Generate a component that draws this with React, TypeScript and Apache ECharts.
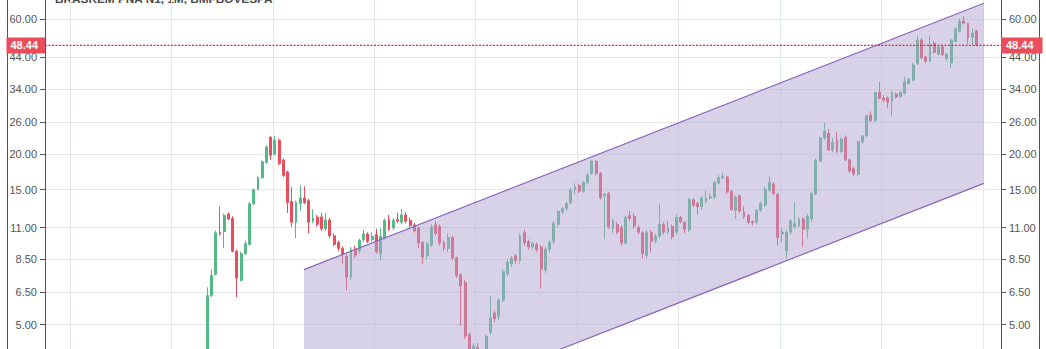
import React, { useEffect, useRef } from "react";
import * as echarts from "echarts";

const chartTitle = "BRASKEM PNA N1, 1M, BMFBOVESPA";

// Monthly candles, oldest first: [open, close, low, high]
const candles: number[][] = [
  [3.7, 6.33, 3.6, 6.77], [6.33, 7.45, 6.25, 7.84], [7.53, 10.55, 7.45, 10.75], [10.6, 10.45, 10.3, 13.06],
  [10.66, 12.14, 9.3, 12.35], [12.3, 11.8, 11.7, 12.45], [11.85, 9.08, 9.0, 12.07], [9.08, 7.3, 6.24, 9.2],
  [7.17, 8.9, 7.1, 9.05], [8.9, 9.65, 8.8, 9.9], [9.6, 13.35, 9.5, 13.6], [13.35, 15.0, 13.2, 15.1],
  [15.0, 16.5, 14.9, 16.7], [16.5, 18.8, 16.4, 19.0], [18.7, 21.2, 18.5, 21.5], [22.9, 19.8, 19.1, 23.2],
  [20.0, 22.4, 19.8, 23.2], [22.4, 18.5, 18.3, 22.7], [19.05, 16.8, 16.6, 19.3], [17.3, 13.5, 12.4, 17.5],
  [13.6, 11.5, 11.05, 15.3], [11.5, 13.5, 10.1, 13.7], [13.4, 14.0, 12.65, 15.5], [14.0, 13.5, 13.3, 15.4],
  [13.7, 11.5, 10.5, 13.9], [11.6, 11.9, 11.4, 12.75], [12.0, 11.3, 11.1, 12.2], [12.0, 10.9, 10.7, 12.4],
  [10.9, 11.7, 10.7, 12.4], [11.7, 10.3, 10.1, 11.9], [10.3, 9.6, 9.45, 10.5], [9.75, 9.3, 9.1, 9.9],
  [9.3, 8.85, 8.2, 9.45], [8.7, 7.35, 6.6, 8.85], [7.35, 9.2, 7.2, 9.4], [9.25, 8.8, 8.6, 9.5],
  [9.1, 9.9, 8.9, 10.05], [9.97, 10.45, 9.8, 10.8], [10.45, 9.85, 9.7, 10.6], [9.97, 10.25, 9.8, 10.6],
  [10.4, 9.05, 8.9, 10.9], [8.9, 10.25, 8.42, 10.95], [10.1, 11.66, 10.0, 11.85], [11.75, 10.85, 10.7, 12.2],
  [11.0, 11.66, 10.8, 11.9], [11.75, 11.6, 11.4, 12.4], [11.5, 12.2, 11.3, 12.8], [12.2, 11.6, 11.4, 12.5],
  [11.66, 11.2, 11.0, 11.9], [11.25, 10.7, 10.55, 11.4], [10.95, 9.7, 9.3, 11.1], [9.75, 8.65, 8.2, 9.85],
  [8.75, 9.65, 8.5, 9.8], [9.55, 11.05, 9.4, 11.3], [11.25, 10.5, 10.3, 11.6], [11.1, 9.7, 9.5, 11.3],
  [9.75, 9.3, 9.1, 9.9], [9.3, 10.15, 9.0, 10.5], [10.15, 8.6, 8.45, 10.3], [8.6, 7.45, 7.3, 8.7],
  [7.5, 6.85, 4.95, 7.6], [7.05, 4.55, 4.45, 7.2], [4.6, 3.9, 3.7, 4.7], [3.8, 4.2, 3.6, 4.3],
  [4.15, 3.6, 3.4, 4.3], [3.6, 3.5, 3.2, 3.95], [3.6, 4.55, 3.5, 4.6], [4.7, 5.27, 4.6, 6.3],
  [5.5, 5.25, 5.1, 5.6], [5.35, 6.1, 5.2, 6.2], [6.1, 7.7, 6.0, 7.85], [7.55, 8.3, 7.4, 8.5],
  [8.2, 8.6, 8.0, 8.75], [8.75, 8.4, 8.2, 8.9], [8.4, 10.3, 8.2, 10.5], [10.55, 9.7, 9.5, 10.8],
  [9.85, 9.4, 9.2, 10.0], [9.4, 9.65, 9.2, 9.8], [9.6, 9.2, 9.0, 9.75], [9.4, 7.85, 6.7, 9.55],
  [7.8, 9.25, 7.6, 9.4], [9.2, 9.75, 9.0, 9.9], [9.85, 11.4, 9.6, 11.6], [11.3, 12.55, 11.1, 12.7],
  [12.5, 12.85, 12.3, 13.0], [12.85, 13.35, 12.6, 13.6], [13.45, 14.95, 13.3, 15.2], [14.95, 15.35, 14.4, 15.8],
  [15.5, 14.8, 14.6, 15.7], [14.8, 15.9, 14.6, 16.1], [15.9, 16.9, 15.7, 17.2], [17.1, 18.9, 16.9, 19.0],
  [18.9, 17.1, 16.8, 19.0], [17.1, 14.0, 13.8, 17.3], [14.25, 14.4, 10.05, 14.6], [14.5, 11.05, 10.9, 14.7],
  [10.95, 11.66, 10.5, 11.8], [11.3, 10.6, 10.4, 11.5], [11.0, 9.7, 9.5, 11.2], [9.7, 11.95, 9.6, 12.1],
  [12.15, 11.85, 11.6, 12.6], [12.05, 11.15, 10.9, 12.3], [11.0, 10.6, 10.4, 11.2], [10.55, 8.9, 8.55, 10.7],
  [8.75, 10.6, 8.6, 10.8], [10.6, 9.85, 9.0, 10.8], [9.9, 10.25, 9.7, 10.5], [10.25, 11.3, 10.1, 13.3],
  [11.3, 10.6, 10.4, 11.5], [10.6, 11.0, 10.4, 11.6], [11.1, 10.2, 10.0, 11.3], [10.6, 11.95, 10.4, 12.3],
  [11.95, 11.55, 11.4, 12.1], [11.5, 10.85, 10.5, 11.6], [10.8, 13.8, 10.6, 14.0], [13.8, 13.2, 13.0, 14.0],
  [13.4, 13.05, 12.2, 13.6], [13.05, 14.0, 12.7, 14.2], [13.6, 14.0, 13.4, 14.9], [14.0, 14.15, 13.8, 14.5],
  [14.1, 15.9, 13.9, 16.1], [15.8, 16.5, 15.6, 16.9], [16.5, 16.7, 16.3, 17.2], [16.6, 14.7, 14.5, 16.8],
  [14.8, 12.75, 12.6, 15.0], [12.65, 14.1, 11.8, 14.3], [14.25, 12.6, 12.4, 14.4], [12.5, 12.05, 11.8, 13.1],
  [12.15, 11.5, 11.3, 12.3], [11.55, 11.45, 11.2, 11.7], [11.5, 12.65, 11.3, 12.8], [12.65, 13.4, 12.5, 13.6],
  [13.2, 15.0, 13.0, 15.3], [14.9, 15.9, 14.7, 16.7], [15.7, 14.55, 14.3, 15.9], [14.4, 10.15, 9.5, 14.6],
  [10.45, 10.6, 9.8, 11.0], [9.1, 10.6, 8.55, 10.8], [10.6, 11.6, 10.4, 11.8], [11.1, 11.35, 10.9, 13.5],
  [11.2, 11.8, 11.0, 12.0], [11.8, 10.85, 9.4, 12.0], [10.85, 12.1, 10.05, 12.3], [11.8, 14.5, 11.5, 14.7],
  [14.5, 19.0, 14.3, 19.3], [18.9, 22.8, 18.7, 23.1], [22.8, 24.1, 22.5, 25.8], [23.7, 20.7, 20.5, 24.5],
  [20.7, 22.0, 20.3, 22.8], [22.4, 20.4, 20.2, 24.0], [20.4, 22.6, 20.2, 22.9], [22.9, 19.1, 18.9, 23.3],
  [19.1, 17.4, 17.2, 19.3], [17.8, 17.0, 16.7, 18.0], [17.0, 22.1, 16.8, 22.3], [22.1, 23.2, 21.8, 23.4],
  [23.2, 27.3, 23.0, 27.6], [27.5, 26.3, 26.0, 28.3], [26.3, 33.0, 26.0, 33.3], [33.0, 31.5, 31.2, 36.0],
  [31.6, 31.0, 30.6, 32.3], [31.6, 30.5, 29.0, 32.0], [30.8, 33.0, 27.3, 33.3], [32.6, 31.8, 31.4, 33.0],
  [31.9, 33.0, 31.6, 33.5], [32.8, 36.0, 32.5, 37.5], [35.5, 36.8, 35.2, 37.2], [36.5, 41.3, 36.2, 42.0],
  [41.8, 50.6, 41.4, 52.5], [50.6, 43.8, 43.3, 51.5], [44.1, 42.6, 42.0, 44.6], [42.6, 49.0, 42.2, 52.5],
  [49.3, 45.8, 45.3, 50.2], [45.1, 47.9, 44.7, 48.5], [47.9, 44.9, 44.5, 48.5], [43.5, 45.0, 42.6, 45.6],
  [42.0, 50.6, 40.2, 51.2], [50.0, 55.4, 49.5, 56.0], [54.3, 59.0, 53.8, 60.4], [59.0, 58.0, 57.4, 61.6],
  [57.8, 51.4, 49.0, 58.2], [51.7, 53.6, 48.7, 55.5], [54.5, 48.44, 48.3, 55.0],
];

const priceTicks = [60, 44, 34, 26, 20, 15, 11, 8.5, 6.5, 5];
const lastPrice = 48.44;
const priceRange = [4.1, 70.05];
const monthRange = [-38.4, 187.8];
const yearLines = [-32.5, -8.5, 15.5, 39.5, 63.5, 87.5, 111.5, 135.5, 159.5, 183.5];
// parallel channel: [month, lower price, upper price]
const channelStart = [22.88, 1.81, 7.82];
const channelEnd = [183.75, 15.76, 68.2];

const UP = "#53b987";
const DOWN = "#eb4d5c";
const AXIS = "#555555";
const GRID = "#e3e8ee";
const FONT = "'Liberation Sans', Arial, sans-serif";

export default function App() {
  const ref = useRef<HTMLDivElement>(null);

  useEffect(() => {
    if (!ref.current) return;
    const chart = echarts.init(ref.current, undefined, { renderer: "svg" });
    const ln = Math.log;
    const tickLn = priceTicks.map((p) => ln(p));
    const labelFmt = (v: number) => Math.exp(v).toFixed(2);

    const yCommon = {
      type: "value",
      min: ln(priceRange[0]),
      max: ln(priceRange[1]),
      axisLine: { show: true, onZero: false, lineStyle: { color: AXIS, width: 1 } },
      axisTick: { show: true, length: 5, lineStyle: { color: AXIS }, customValues: tickLn },
      axisLabel: {
        show: true,
        customValues: tickLn,
        formatter: labelFmt,
        color: AXIS,
        fontSize: 11,
        fontFamily: FONT,
        margin: 8,
      },
    };

    const labelBase = {
      show: true,
      formatter: () => lastPrice.toFixed(2),
      color: "#ffffff",
      fontWeight: "bold",
      fontSize: 11,
      fontFamily: FONT,
      backgroundColor: DOWN,
      lineHeight: 12,
      distance: 0,
    };
    const clearLine = { color: "rgba(255,255,255,0)", width: 0.01, type: "solid" };

    const option: any = {
      animation: false,
      grid: { left: 45, right: 45, top: 0, bottom: 0, containLabel: false },
      xAxis: {
        type: "value",
        min: monthRange[0],
        max: monthRange[1],
        axisLine: { show: false, onZero: false },
        axisLabel: { show: false },
        axisTick: { show: false, customValues: yearLines },
        splitLine: { show: true, lineStyle: { color: GRID, width: 1 } },
      },
      yAxis: [
        {
          ...yCommon,
          position: "left",
          splitLine: { show: true, lineStyle: { color: GRID, width: 1 } },
        },
        {
          ...yCommon,
          position: "right",
          splitLine: { show: false },
        },
      ],
      graphic: [
        {
          type: "text",
          left: 55,
          top: -7,
          style: {
            text: chartTitle,
            fill: "#4c4c4c",
            font: `bold 11.8px ${FONT}`,
          },
        },
        { type: "rect", shape: { x: 7, y: 0, width: 1, height: 349 }, style: { fill: AXIS } },
        { type: "rect", shape: { x: 1039, y: 0, width: 1, height: 349 }, style: { fill: AXIS } },
      ],
      series: [
        {
          type: "candlestick",
          data: candles.map((c, i) => [i, ln(c[0]), ln(c[1]), ln(c[2]), ln(c[3])]),
          encode: { x: 0, y: [1, 2, 3, 4] },
          barWidth: 2.4,
          z: 2,
          itemStyle: {
            color: UP,
            color0: DOWN,
            borderColor: UP,
            borderColor0: DOWN,
            borderWidth: 1,
          },
        },
        {
          type: "custom",
          z: 3,
          clip: true,
          silent: true,
          dimensions: ["x1", "lo1", "up1", "x2", "lo2", "up2"],
          encode: { x: [0, 3], y: [1, 2, 4, 5] },
          data: [
            [channelStart[0], ln(channelStart[1]), ln(channelStart[2]), channelEnd[0], ln(channelEnd[1]), ln(channelEnd[2])],
          ],
          renderItem: (params: any, api: any) => {
            const lo1 = api.coord([api.value(0), api.value(1)]);
            const up1 = api.coord([api.value(0), api.value(2)]);
            const lo2 = api.coord([api.value(3), api.value(4)]);
            const up2 = api.coord([api.value(3), api.value(5)]);
            return {
              type: "group",
              children: [
                {
                  type: "polygon",
                  shape: { points: [lo1, up1, up2, lo2] },
                  style: { fill: "rgba(178,166,212,0.5)", stroke: "none" },
                },
                {
                  type: "line",
                  shape: { x1: up1[0], y1: up1[1], x2: up2[0], y2: up2[1] },
                  style: { stroke: "#8a66b8", lineWidth: 1.2 },
                },
                {
                  type: "line",
                  shape: { x1: lo1[0], y1: lo1[1], x2: lo2[0], y2: lo2[1] },
                  style: { stroke: "#8a66b8", lineWidth: 1.2 },
                },
              ],
            };
          },
        },
        {
          type: "line",
          z: 5,
          silent: true,
          showSymbol: false,
          color: DOWN,
          lineStyle: { color: "#f0203c", type: [2, 1.5], width: 1.2 },
          data: [
            [monthRange[0], ln(lastPrice)],
            [monthRange[1], ln(lastPrice)],
          ],
          markLine: {
            silent: true,
            symbol: ["none", "none"],
            lineStyle: clearLine,
            data: [
              { yAxis: ln(lastPrice), lineStyle: clearLine, label: { ...labelBase, position: "start", padding: [2, 7, 2, 4] } },
              { yAxis: ln(lastPrice), lineStyle: clearLine, label: { ...labelBase, position: "end", padding: [2, 9, 2, 5] } },
            ],
          },
        },
      ],
    };

    chart.setOption(option);
    return () => chart.dispose();
  }, []);

  return (
    <div
      ref={ref}
      style={{ position: "fixed", left: 0, top: 0, width: 1046, height: 349, background: "#ffffff" }}
    />
  );
}
